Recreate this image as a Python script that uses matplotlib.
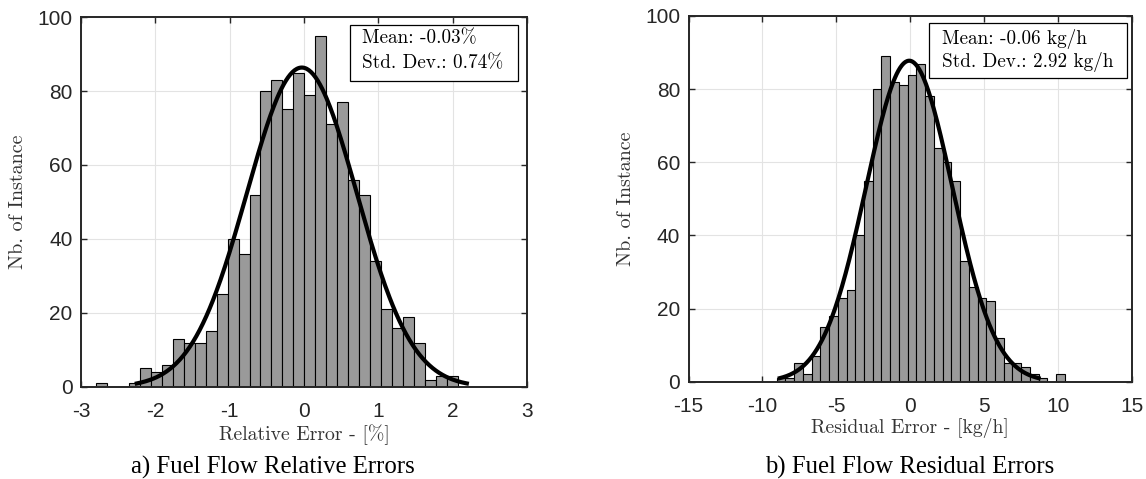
"""
Histograms of fuel flow prediction errors with fitted normal curves
"""

import numpy as np
import matplotlib.pyplot as plt
from matplotlib.patches import Rectangle


# ============== DATA ==============

# a) relative errors [%], 33 bins starting at the first edge
rel_first_edge = -2.80
rel_bin_width = 0.1476
rel_counts = [1, 0, 0, 1, 5, 4, 6, 13, 12, 12, 15, 25, 40, 36, 52, 80, 83,
			  75, 85, 79, 95, 71, 77, 56, 52, 34, 21, 16, 19, 12, 2, 3, 3]
rel_mean = -0.03
rel_std = 0.74

# b) residual errors [kg/h]
res_first_edge = -9.03
res_bin_width = 0.591
res_counts = [1, 1, 5, 2, 7, 15, 18, 23, 25, 40, 55, 80, 89, 82, 81, 84, 87,
			  78, 64, 60, 55, 33, 26, 23, 22, 12, 5, 5, 4, 2, 1, 0, 2]
res_mean = -0.06
res_std = 2.92

rel_xticks = [-3, -2, -1, 0, 1, 2, 3]
res_xticks = [-15, -10, -5, 0, 5, 10, 15]
yticks = [0, 20, 40, 60, 80, 100]


# ============== STYLE ==============

FIG_SIZE = (11.46, 4.79)
DPI = 100
BAR_COLOR = '#9a9a9a'
GRID_COLOR = '#e3e3e3'
SPINE_COLOR = '#262626'
TICK_FONT = 'Liberation Sans'
LABEL_FONT = 'cmr10'
CAPTION_FONT = 'Liberation Serif'

plt.rcParams['axes.unicode_minus'] = False


def draw_panel(ax, first_edge, bin_width, counts, mean, std, xlim, xticks,
			   xlabel, box_lines, box_rect, text_x, text_y):
	"""Draw one histogram with its normal fit and stats box"""
	counts = np.asarray(counts)
	lefts = first_edge + bin_width * np.arange(len(counts))
	ax.bar(lefts, counts, width=bin_width, align='edge', color=BAR_COLOR,
		   edgecolor='black', linewidth=0.8, zorder=2)

	# normal fit scaled to the histogram, drawn over mean +/- 3 std
	n = counts.sum()
	x = np.linspace(mean - 3 * std, mean + 3 * std, 300)
	pdf = n * bin_width / (std * np.sqrt(2 * np.pi)) * np.exp(-0.5 * ((x - mean) / std) ** 2)
	ax.plot(x, pdf, color='black', linewidth=3.0, zorder=3)

	ax.set_xlim(xlim)
	ax.set_ylim(0, 100)
	ax.set_xticks(xticks)
	ax.set_yticks(yticks)
	ax.grid(True, color=GRID_COLOR, linewidth=0.8, zorder=0)
	ax.set_axisbelow(True)
	ax.tick_params(direction='in', top=True, right=True, length=4,
				   width=1.0, color=SPINE_COLOR, labelsize=15)
	ax.tick_params(axis='x', pad=11)
	ax.tick_params(axis='y', pad=6)
	for lbl in ax.get_xticklabels() + ax.get_yticklabels():
		lbl.set_fontfamily(TICK_FONT)
		lbl.set_color('#262626')
	for sp in ax.spines.values():
		sp.set_linewidth(1.4)
		sp.set_color(SPINE_COLOR)

	ax.set_xlabel(xlabel, fontfamily=LABEL_FONT, fontsize=14.2, color='#333333')
	ax.set_ylabel('Nb. of Instance', fontfamily=LABEL_FONT, fontsize=14.5, color='#333333')
	ax.xaxis.set_label_coords(0.5, -0.1)
	ax.yaxis.set_label_coords(-0.12, 0.5)

	# stats box
	x0, y0, x1, y1 = box_rect
	ax.add_patch(Rectangle((x0, y0), x1 - x0, y1 - y0, transform=ax.transAxes,
						   facecolor='white', edgecolor='black', linewidth=0.9,
						   zorder=5, clip_on=False))
	for line, ty in zip(box_lines, text_y):
		ax.text(text_x, ty, line, transform=ax.transAxes, ha='left', va='baseline',
				fontfamily=LABEL_FONT, fontsize=13.8, zorder=6)


def main():
	fig = plt.figure(figsize=FIG_SIZE, dpi=DPI)
	ax1 = fig.add_axes([0.0707, 0.1921, 0.3892, 0.7724])
	ax2 = fig.add_axes([0.6008, 0.2031, 0.3867, 0.7635])

	draw_panel(ax1, rel_first_edge, rel_bin_width, rel_counts, rel_mean, rel_std,
			   (-3, 3), rel_xticks, 'Relative Error - [%]',
			   ['Mean: %.2f%%' % rel_mean, 'Std. Dev.: %.2f%%' % rel_std],
			   (0.603, 0.827, 0.980, 0.978), 0.631, (0.930, 0.862))
	draw_panel(ax2, res_first_edge, res_bin_width, res_counts, res_mean, res_std,
			   (-15, 15), res_xticks, 'Residual Error - [kg/h]',
			   ['Mean: %.2f kg/h' % res_mean, 'Std. Dev.: %.2f kg/h' % res_std],
			   (0.543, 0.830, 0.989, 0.981), 0.571, (0.923, 0.861))

	fig.text(0.238, 0.025, 'a) Fuel Flow Relative Errors', ha='center', va='center',
			 fontfamily=CAPTION_FONT, fontsize=17.8)
	fig.text(0.794, 0.025, 'b) Fuel Flow Residual Errors', ha='center', va='center',
			 fontfamily=CAPTION_FONT, fontsize=17.8)

	fig.savefig('out.png', dpi=DPI)


if __name__ == '__main__':
	main()
